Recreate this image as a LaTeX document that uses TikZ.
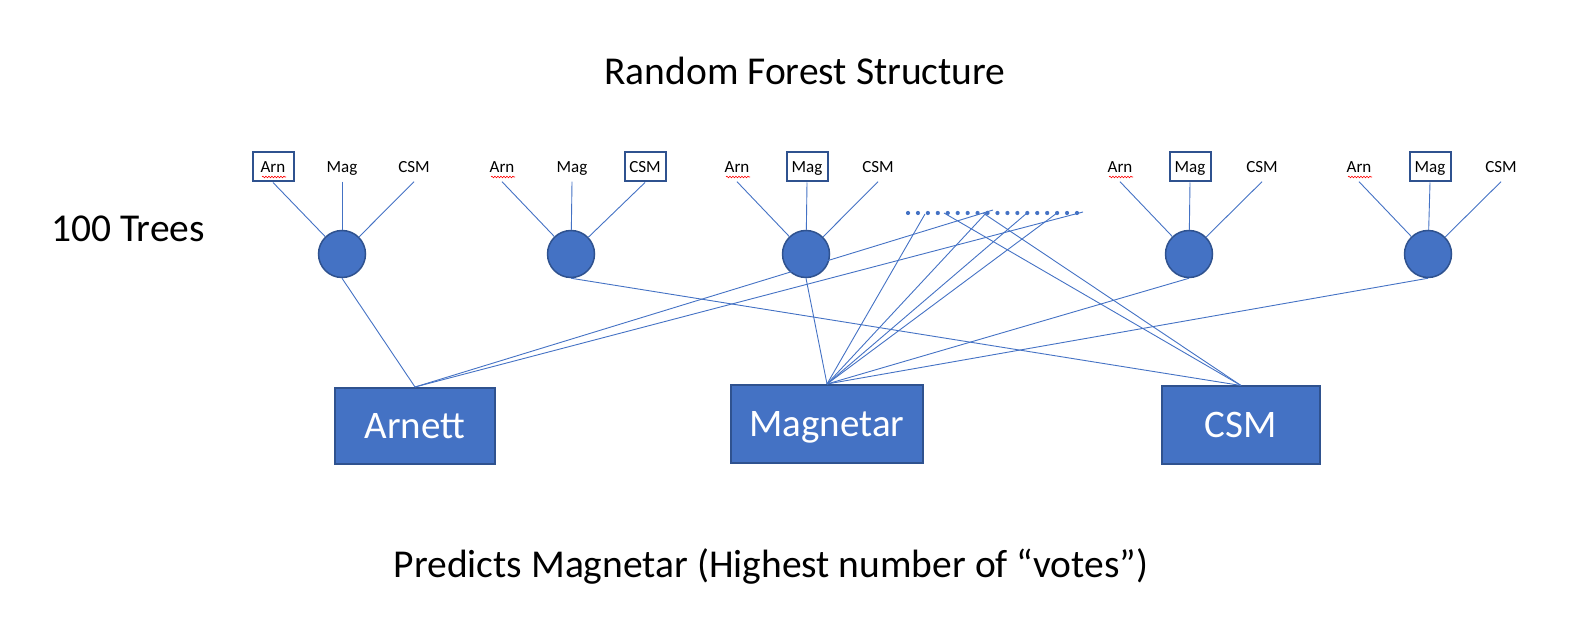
\documentclass[tikz,border=0pt]{standalone}
\usepackage{fontspec}
\setmainfont{Carlito}
\usetikzlibrary{calc}
\usetikzlibrary{decorations.pathmorphing}

\definecolor{officeblue}{HTML}{4472C4}
\definecolor{darkblue}{HTML}{2F528F}

\begin{document}
\begin{tikzpicture}[x=1pt,y=-1pt,
    tree/.style={circle, fill=officeblue, draw=darkblue, line width=1.5pt, minimum size=47pt, inner sep=0},
    leaf/.style={font=\fontsize{17}{20}\selectfont, text height=11pt, text depth=0pt, minimum width=41pt, minimum height=29pt, inner sep=0},
    vote/.style={leaf, draw=darkblue, line width=2pt},
    class/.style={fill=officeblue, draw=darkblue, line width=2pt, text=white, inner sep=0, text height=25pt, text depth=0pt, font=\fontsize{39}{45}\selectfont},
    link/.style={officeblue, line width=0.9pt},
    squiggle/.style={red, line width=0.6pt, decorate, decoration={snake, amplitude=0.8pt, segment length=3pt}},
    big/.style={font=\fontsize{39.5}{45}\selectfont}]
      \useasboundingbox (0,0) rectangle (1577,617);

      \node [big] (title) at (805,71) {Random Forest Structure};
      \node [big] (ntrees) at (128,229) {100 Trees};
      \node [big] (result) at (771,566) {Predicts Magnetar (Highest number of “votes”)};

      % the trees
      \node [tree] (t1) at (342,254) {};
      \node [tree] (t2) at (571,254) {};
      \node [tree] (t3) at (806,254) {};
      \node [tree] (t4) at (1189,254) {};
      \node [tree] (t5) at (1428,254) {};

      \node [vote] (t1a) at (273,167) {Arn};
      \node [leaf] (t1m) at (342,167) {Mag};
      \node [leaf] (t1c) at (414,167) {CSM};

      \node [leaf] (t2a) at (502,167) {Arn};
      \node [leaf] (t2m) at (572,167) {Mag};
      \node [vote] (t2c) at (645,167) {CSM};

      \node [leaf] (t3a) at (737,167) {Arn};
      \node [vote] (t3m) at (807,167) {Mag};
      \node [leaf] (t3c) at (878,167) {CSM};

      \node [leaf] (t4a) at (1120,167) {Arn};
      \node [vote] (t4m) at (1190,167) {Mag};
      \node [leaf] (t4c) at (1262,167) {CSM};

      \node [leaf] (t5a) at (1359,167) {Arn};
      \node [vote] (t5m) at (1430,167) {Mag};
      \node [leaf] (t5c) at (1501,167) {CSM};

      \foreach \t in {t1,t2,t3,t4,t5} {
        \draw [link] (\t a.south) -- (\t);
        \draw [link] (\t m.south) -- (\t);
        \draw [link] (\t c.south) -- (\t);
        \draw [squiggle] ($(\t a)+(-11,10)$) -- ($(\t a)+(13,10)$);
      }

      % the classes
      \node [class, minimum width=160pt, minimum height=76pt] (arnett) at (415,426) {Arnett};
      \node [class, minimum width=192pt, minimum height=78pt] (magnetar) at (827,424) {Magnetar};
      \node [class, minimum width=158pt, minimum height=77pt] (csm) at (1241,425) {CSM};

      % the other trees
      \foreach \i in {0,...,17}
        \fill [officeblue] (908+\i*9.94,213) circle (2.1);

      \coordinate (va1) at (993,210);
      \coordinate (va2) at (1083,212);
      \coordinate (vm1) at (925,214);
      \coordinate (vm2) at (988,211);
      \coordinate (vm3) at (1027,213);
      \coordinate (vm4) at (1057,213);
      \coordinate (vc1) at (944,213);
      \coordinate (vc2) at (983,213);

      \draw [link] (t1.south) -- (arnett.north);
      \draw [link] (va1) -- (arnett.north);
      \draw [link] (va2) -- (arnett.north);

      \draw [link] (t3.south) -- (magnetar.north);
      \draw [link] (t4.south) -- (magnetar.north);
      \draw [link] (t5.south) -- (magnetar.north);
      \draw [link] (vm1) -- (magnetar.north);
      \draw [link] (vm2) -- (magnetar.north);
      \draw [link] (vm3) -- (magnetar.north);
      \draw [link] (vm4) -- (magnetar.north);

      \draw [link] (t2.south) -- (csm.north);
      \draw [link] (vc1) -- (csm.north);
      \draw [link] (vc2) -- (csm.north);
\end{tikzpicture}
\end{document}
